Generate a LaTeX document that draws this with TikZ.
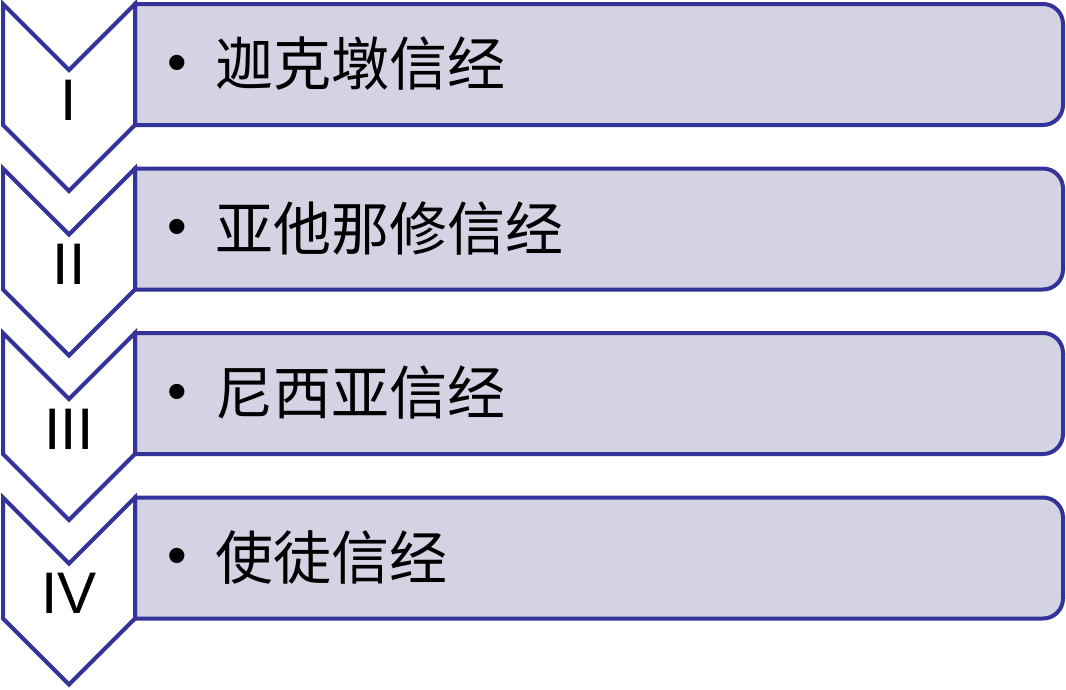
\documentclass[tikz,border=0pt]{standalone}
\usepackage{fontspec}
\setmainfont{Liberation Sans}
\newfontfamily\cjk{Noto Sans CJK SC}
\definecolor{edgeblue}{RGB}{51,51,153}
\definecolor{barfill}{RGB}{211,211,227}
\begin{document}
\begin{tikzpicture}[x=0.75pt,y=-0.75pt,
		chev/.style={draw=edgeblue, fill=white, line width=3pt, line join=miter},
		bar/.style={draw=edgeblue, fill=barfill, line width=3pt},
		numlabel/.style={inner sep=0pt, font=\fontsize{44}{44}\selectfont},
		dotlabel/.style={inner sep=0pt, font=\fontsize{42}{42}\selectfont},
		itemlabel/.style={anchor=west, inner sep=0pt, font=\cjk\fontsize{43.5}{44}\selectfont}]
	\useasboundingbox (0,0) rectangle (1066,689);
	\foreach \i/\num/\txt in {0/I/迦克墩信经, 1/II/亚他那修信经, 2/III/尼西亚信经, 3/IV/使徒信经}{
		\pgfmathsetmacro{\ytop}{4+164.5*\i}
		\draw[bar] (135,\ytop) [rounded corners=15pt] -- (1063,\ytop) -- (1063,\ytop+121) [sharp corners] -- (135,\ytop+121) -- cycle;
		\draw[chev] (3,\ytop) -- (69,\ytop+66) -- (135,\ytop) -- (135,\ytop+121) -- (69,\ytop+187) -- (3,\ytop+121) -- cycle;
		\node[numlabel] (num\i) at (69,\ytop+96) {\num};
		\node[dotlabel] (dot\i) at (177,\ytop+64) {•};
		\node[itemlabel] (item\i) at (215,\ytop+60) {\txt};
	}
\end{tikzpicture}
\end{document}
